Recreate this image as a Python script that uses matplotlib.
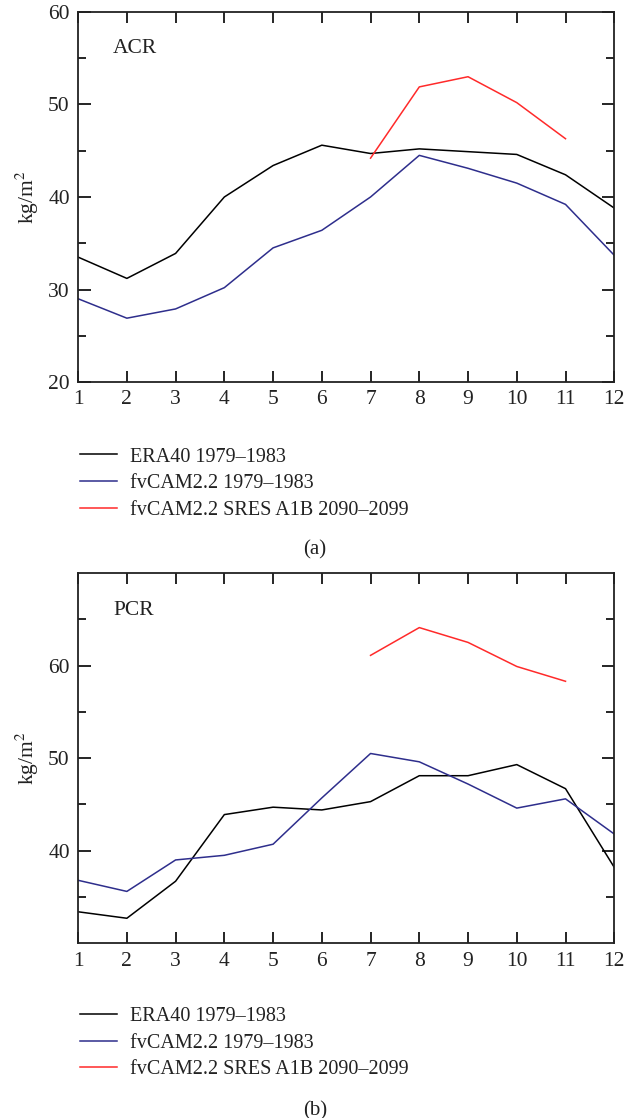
#======================================================================
#   IMPORTS:
#======================================================================

from matplotlib import pyplot as plt

#======================================================================
#   DATA:
#======================================================================

months = [1, 2, 3, 4, 5, 6, 7, 8, 9, 10, 11, 12]
months_future = [7, 8, 9, 10, 11]

# (a) ACR
acr_era40 = [33.5, 31.2, 33.9, 40.0, 43.4, 45.6, 44.7, 45.2, 44.9, 44.6, 42.4, 38.8]
acr_fvcam = [29.0, 26.9, 27.9, 30.2, 34.5, 36.4, 40.0, 44.5, 43.1, 41.5, 39.2, 33.7]
acr_sres = [44.2, 51.9, 53.0, 50.2, 46.3]

# (b) PCR
pcr_era40 = [33.4, 32.7, 36.7, 43.9, 44.7, 44.4, 45.3, 48.1, 48.1, 49.3, 46.7, 38.2]
pcr_fvcam = [36.8, 35.6, 39.0, 39.5, 40.7, 45.7, 50.5, 49.6, 47.2, 44.6, 45.6, 41.8]
pcr_sres = [61.1, 64.1, 62.5, 59.9, 58.3]

labels = ['ERA40 1979\u20131983', 'fvCAM2.2 1979\u20131983',
          'fvCAM2.2 SRES A1B 2090\u20132099']
colors = ['black', '#2e2e8c', '#ff2a2a']

#======================================================================
#   MAIN:
#======================================================================

plt.rcParams['font.family'] = ['Liberation Serif', 'DejaVu Serif']
plt.rcParams['mathtext.fontset'] = 'stix'

fig = plt.figure(figsize=(6.3, 11.18), dpi=100)

panels = [
    # rect, region, data, ylim, major ticks, legend y (top), caption y
    ([0.124, 0.6583, 0.851, 0.331], 'ACR', (acr_era40, acr_fvcam, acr_sres),
     (20, 60), [20, 30, 40, 50, 60], 0.607, 0.508, '(a)'),
    ([0.124, 0.1563, 0.851, 0.3312], 'PCR', (pcr_era40, pcr_fvcam, pcr_sres),
     (30, 70), [40, 50, 60], 0.1065, 0.0066, '(b)'),
]

for rect, name, data, ylim, yt, leg_y, cap_y, cap in panels:
    ax = fig.add_axes(rect)
    era, fv, sres = data
    h1, = ax.plot(months, era, color=colors[0], lw=1.1)
    h2, = ax.plot(months, fv, color=colors[1], lw=1.1)
    h3, = ax.plot(months_future, sres, color=colors[2], lw=1.1)

    ax.set_xlim(1, 12)
    ax.set_ylim(*ylim)
    ax.set_xticks(months)
    ax.set_yticks(yt)
    ax.set_yticks(range(ylim[0] + 5, ylim[1], 10), minor=True)
    ax.tick_params(direction='in', which='major', length=9, width=1.2,
                   top=True, right=True, labelsize=15.5, pad=6,
                   labelcolor='#222222')
    ax.tick_params(direction='in', which='minor', length=6, width=1.2,
                   right=True, left=True)
    ax.tick_params(axis='x', length=8)
    for sp in ax.spines.values():
        sp.set_linewidth(1.3)
        sp.set_color('#222222')

    ax.set_ylabel('kg/m$^2$', fontsize=15.5, labelpad=5, color='#222222')
    ax.text(0.065, 0.9, name, transform=ax.transAxes, fontsize=15.5,
            va='center', ha='left', color='#222222')

    fig.legend([h1, h2, h3], labels, loc='upper left',
               bbox_to_anchor=(0.114, leg_y), frameon=False, fontsize=14.5,
               handlelength=1.85, handletextpad=0.65, labelspacing=0.37,
               borderaxespad=0, labelcolor='#222222')
    fig.text(0.5, cap_y, cap, fontsize=15, ha='center', va='center',
             color='#222222')

plt.savefig('out.png', dpi=100)
